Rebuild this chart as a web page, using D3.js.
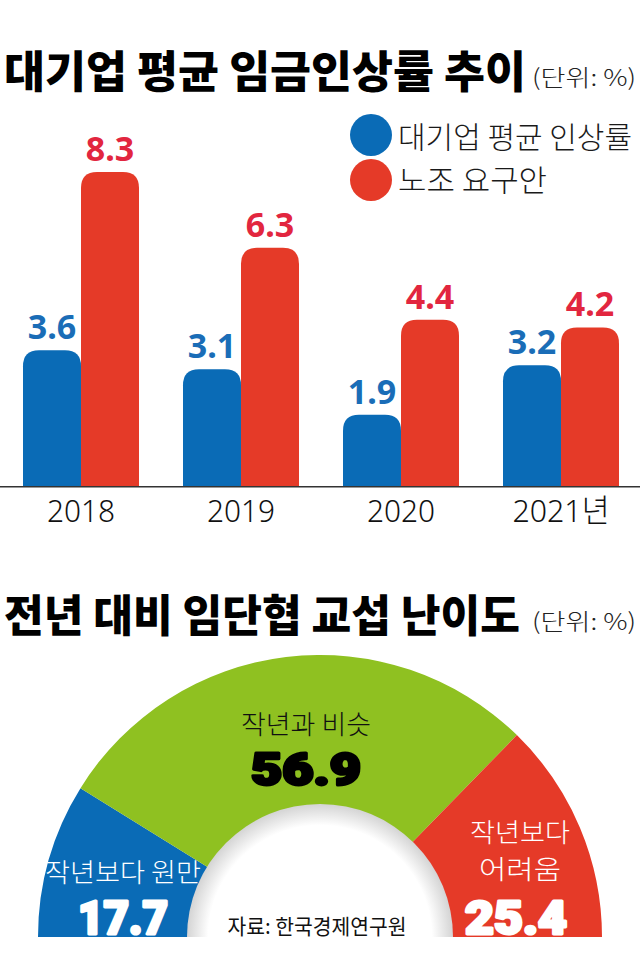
<!DOCTYPE html>
<html>
<head>
<meta charset="utf-8">
<script src="https://cdn.jsdelivr.net/npm/d3@7"></script>
<style>
html,body{margin:0;padding:0;background:#fff;}
svg{display:block;}
</style>
</head>
<body>
<svg id="chart" width="640" height="965"></svg>
<script>
// ---- data ----
const years = ["2018", "2019", "2020", "2021"];
const yearLabels = ["2018", "2019", "2020", "2021년"];
const corpRaise = [3.6, 3.1, 1.9, 3.2];     // 대기업 평균 인상률
const unionDemand = [8.3, 6.3, 4.4, 4.2];   // 노조 요구안
const seriesNames = ["대기업 평균 인상률", "노조 요구안"];
const difficultyCats = ["작년보다 원만", "작년과 비슷", "작년보다 어려움"];
const difficultyVals = [17.7, 56.9, 25.4];

// ---- styles ----
const BLUE = "#0a6bb6", RED = "#e53a28", GREEN = "#8fc121";
const BLUE_TXT = "#1a6db7", RED_TXT = "#e2263f";
const KR = "'Noto Sans CJK KR', 'Noto Sans', sans-serif";
const HEAVY = "Roboto, Lato, 'Noto Sans', sans-serif";

const svg = d3.select("#chart");

function txt(g, s, x, y, o) {
  const t = g.append("text").attr("x", x).attr("y", y).text(s)
    .attr("font-family", o.family || KR)
    .attr("font-size", o.size)
    .attr("font-weight", o.weight || 400)
    .attr("fill", o.fill || "#111")
    .attr("text-anchor", o.anchor || "start");
  if (o.len) t.attr("textLength", o.len).attr("lengthAdjust", "spacingAndGlyphs");
  if (o.stroke) t.attr("stroke", o.fill).attr("stroke-width", o.stroke).attr("stroke-linejoin", "round").attr("paint-order", "stroke");
  return t;
}

// ---- titles ----
txt(svg, "대기업 평균 임금인상률 추이", 4, 88, {size: 44, weight: 900, len: 522, fill: "#000"});
txt(svg, "(단위: %)", 532, 86, {size: 23, weight: 300, len: 104, fill: "#222"});
txt(svg, "전년 대비 임단협 교섭 난이도", 4, 632, {size: 44, weight: 900, len: 516, fill: "#000"});
txt(svg, "(단위: %)", 532, 630, {size: 23, weight: 300, len: 104, fill: "#222"});

// ---- legend ----
const legend = svg.append("g");
[[BLUE, 135, 148, 234], [RED, 180, 191, 149]].forEach((d, i) => {
  legend.append("circle").attr("cx", 371).attr("cy", d[1]).attr("r", 21).attr("fill", d[0]);
  txt(legend, seriesNames[i], 398, d[2], {size: 30, weight: 300, len: d[3], fill: "#1a1a1a"});
});

// ---- bar chart ----
const x0 = d3.scaleBand().domain(years).range([1, 641]).paddingInner(0.275).paddingOuter(0.1375);
const x1 = d3.scaleBand().domain([0, 1]).range([0, x0.bandwidth()]);
const y = d3.scaleLinear().domain([0, 8.3]).range([486.7, 172]);

function topRounded(x, yTop, w, h, r) {
  r = Math.min(r, w / 2, h);
  return `M${x},${yTop + h}V${yTop + r}Q${x},${yTop} ${x + r},${yTop}H${x + w - r}Q${x + w},${yTop} ${x + w},${yTop + r}V${yTop + h}Z`;
}

const bars = svg.append("g");
years.forEach((yr, i) => {
  [[corpRaise[i], BLUE, BLUE_TXT], [unionDemand[i], RED, RED_TXT]].forEach((s, j) => {
    const bx = x0(yr) + x1(j), bw = x1.bandwidth();
    const top = y(s[0]), h = y(0) - top;
    bars.append("path").attr("d", topRounded(bx, top, bw, h, 16)).attr("fill", s[1]);
    txt(bars, s[0].toFixed(1), bx + bw / 2, top - 11, {family: "'Noto Sans', sans-serif", size: 34, weight: 700, fill: s[2], anchor: "middle"});
  });
});

// axis
const xAxis = d3.axisBottom(x0).tickSize(0).tickFormat((d, i) => yearLabels[i]);
const ax = svg.append("g").attr("transform", `translate(0,${y(0)})`).call(xAxis);
ax.select(".domain").attr("d", "M0,0H640").attr("stroke", "#333").attr("stroke-width", 1.5);
ax.selectAll(".tick text")
  .attr("y", 35).attr("dy", 0)
  .attr("font-family", "'Noto Sans', 'Noto Sans CJK KR', sans-serif")
  .attr("font-size", 32).attr("font-weight", 300).attr("fill", "#111")
  .attr("textLength", (d, i) => i === 3 ? 97 : 68)
  .attr("lengthAdjust", "spacingAndGlyphs");

// ---- half donut ----
const cx = 320, cy = 937, rIn = 132, rOut = 282;
const pie = d3.pie().sort(null).startAngle(-Math.PI / 2).endAngle(Math.PI / 2);
const arc = d3.arc().innerRadius(rIn).outerRadius(rOut);
const colors = [BLUE, GREEN, RED];

const defs = svg.append("defs");
const rg = defs.append("radialGradient").attr("id", "hole");
rg.append("stop").attr("offset", "0.84").attr("stop-color", "#fff");
rg.append("stop").attr("offset", "1").attr("stop-color", "#d4d4d4");
defs.append("clipPath").attr("id", "half").append("rect").attr("x", 0).attr("y", 600).attr("width", 640).attr("height", cy - 600);

const donut = svg.append("g").attr("transform", `translate(${cx},${cy})`);
donut.selectAll("path.slice").data(pie(difficultyVals)).join("path")
  .attr("class", "slice").attr("d", arc).attr("fill", (d, i) => colors[i]);
svg.append("circle").attr("cx", cx).attr("cy", cy).attr("r", rIn + 1)
  .attr("fill", "url(#hole)").attr("clip-path", "url(#half)");

// donut labels
const lab = svg.append("g");
txt(lab, "작년과 비슷", 306, 734, {size: 26, weight: 300, len: 130, fill: "#111", anchor: "middle"});
txt(lab, difficultyVals[1].toFixed(1), 306, 785, {family: HEAVY, size: 44, weight: 900, len: 110, fill: "#000", anchor: "middle", stroke: 3});
txt(lab, "작년보다 원만", 45, 882, {size: 26, weight: 300, len: 156, fill: "#fff"});
txt(lab, difficultyVals[0].toFixed(1), 123, 934, {family: HEAVY, size: 46, weight: 900, len: 90, fill: "#fff", anchor: "middle", stroke: 3});
txt(lab, "작년보다", 520, 842, {size: 26, weight: 300, len: 100, fill: "#fff", anchor: "middle"});
txt(lab, "어려움", 520, 879, {size: 26, weight: 300, len: 82, fill: "#fff", anchor: "middle"});
txt(lab, difficultyVals[2].toFixed(1), 516, 934, {family: HEAVY, size: 46, weight: 900, len: 102, fill: "#fff", anchor: "middle", stroke: 3});
txt(lab, "자료: 한국경제연구원", 317, 934, {size: 21, weight: 400, len: 179, fill: "#111", anchor: "middle"});
</script>
</body>
</html>
